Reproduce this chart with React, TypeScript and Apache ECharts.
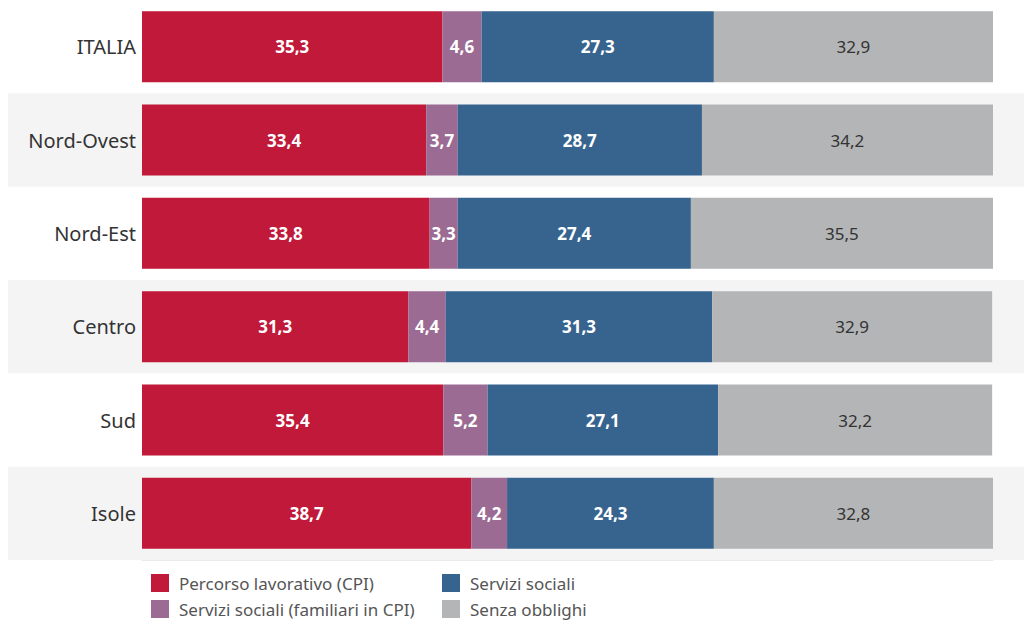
import React, { useEffect, useRef } from "react";
import * as echarts from "echarts";

const categories = ["ITALIA", "Nord-Ovest", "Nord-Est", "Centro", "Sud", "Isole"];
const seriesNames = [
  "Percorso lavorativo (CPI)",
  "Servizi sociali (familiari in CPI)",
  "Servizi sociali",
  "Senza obblighi",
];
const percorso = [35.3, 33.4, 33.8, 31.3, 35.4, 38.7];
const familiari = [4.6, 3.7, 3.3, 4.4, 5.2, 4.2];
const sociali = [27.3, 28.7, 27.4, 31.3, 27.1, 24.3];
const senza = [32.9, 34.2, 35.5, 32.9, 32.2, 32.8];
const bandFlags = [0, 1, 0, 1, 0, 1];

const colors = ["#C0193A", "#9B6B93", "#37648F", "#B3B5B6"];
const labelColors = ["#ffffff", "#ffffff", "#ffffff", "#333333"];
const labelWeights = ["bold", "bold", "bold", "normal"];

const FONT = "Noto Sans";

export default function App() {
  const ref = useRef<HTMLDivElement>(null);
  useEffect(() => {
    const chart = echarts.init(ref.current!, null, { renderer: "svg" });
    const values = [percorso, familiari, sociali, senza];
    const fmt = (v: number) => v.toFixed(1).replace(".", ",");
    const legendBase = {
      orient: "vertical",
      top: 574,
      padding: 0,
      itemWidth: 18,
      itemHeight: 18,
      itemGap: 8,
      icon: "rect",
      textStyle: { fontSize: 17, color: "#555555", fontFamily: FONT, padding: [0, 0, 0, 5] },
    };
    chart.setOption({
      animation: false,
      textStyle: { fontFamily: FONT },
      grid: [
        { left: 8, right: 0, top: 0, height: 560 },
        { left: 142, width: 851, top: 0, height: 560 },
      ],
      xAxis: [
        { gridIndex: 0, type: "value", min: 0, max: 1, show: false },
        {
          gridIndex: 1,
          type: "value",
          min: 0,
          max: 100,
          axisLabel: { show: false },
          axisTick: { show: false },
          splitLine: { show: false },
          axisLine: { show: true, lineStyle: { color: "#ebebeb", width: 1 } },
        },
      ],
      yAxis: [
        {
          gridIndex: 0,
          type: "category",
          data: categories,
          inverse: true,
          show: false,
        },
        {
          gridIndex: 1,
          type: "category",
          data: categories,
          inverse: true,
          axisTick: { show: false },
          axisLine: { show: true, lineStyle: { color: "#ffffff", width: 2 } },
          axisLabel: {
            margin: 6,
            fontSize: 20,
            color: "#333333",
            fontFamily: FONT,
          },
        },
      ],
      legend: [
        { ...legendBase, left: 151, data: [seriesNames[0], seriesNames[1]] },
        { ...legendBase, left: 442, data: [seriesNames[2], seriesNames[3]] },
      ],
      series: [
        {
          type: "bar",
          xAxisIndex: 0,
          yAxisIndex: 0,
          data: bandFlags,
          barWidth: "100%",
          silent: true,
          z: 0,
          itemStyle: { color: "#f4f4f4" },
          legendHoverLink: false,
        },
        ...seriesNames.map((name, i) => ({
          name,
          type: "bar",
          stack: "total",
          xAxisIndex: 1,
          yAxisIndex: 1,
          barCategoryGap: "24%",
          data: values[i],
          itemStyle: { color: colors[i], borderWidth: 0 },
          label: {
            show: true,
            position: "inside",
            color: labelColors[i],
            fontWeight: labelWeights[i],
            fontSize: 17,
            fontFamily: FONT,
            formatter: (p: any) => fmt(p.value),
          },
        })),
      ],
    });
    return () => chart.dispose();
  }, []);
  return (
    <div
      ref={ref}
      style={{ position: "fixed", left: 0, top: 0, width: 1024, height: 626, background: "#ffffff" }}
    />
  );
}
